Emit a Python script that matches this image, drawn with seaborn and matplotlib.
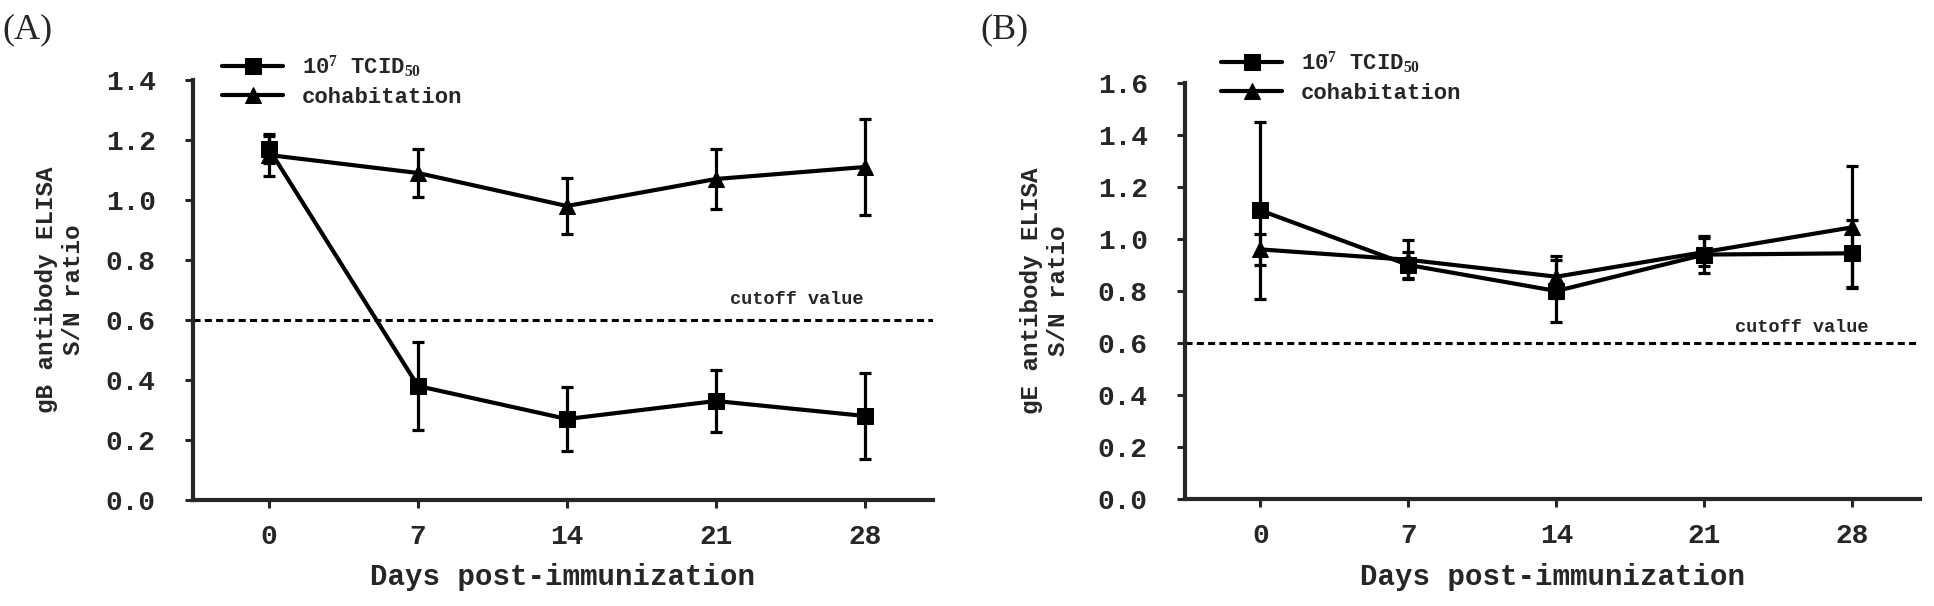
import numpy as np
import pandas as pd
import matplotlib
matplotlib.use("Agg")
import matplotlib.pyplot as plt
import seaborn as sns

days = [0, 7, 14, 21, 28]
series_names = ["10$^{7}$ TCID$_{50}$", "cohabitation"]

# Panel A: gB antibody ELISA
gb_tcid_mean = [1.17, 0.38, 0.27, 0.33, 0.28]
gb_tcid_err = [0.045, 0.148, 0.107, 0.104, 0.142]
gb_cohab_mean = [1.15, 1.09, 0.98, 1.07, 1.11]
gb_cohab_err = [0.07, 0.08, 0.094, 0.10, 0.16]

# Panel B: gE antibody ELISA
ge_tcid_mean = [1.11, 0.90, 0.80, 0.94, 0.945]
ge_tcid_err = [0.34, 0.05, 0.12, 0.07, 0.13]
ge_cohab_mean = [0.96, 0.92, 0.855, 0.95, 1.045]
ge_cohab_err = [0.06, 0.075, 0.08, 0.055, 0.235]

cutoff = 0.6
x_ticks = [0, 7, 14, 21, 28]

sns.set_theme(style="ticks")
plt.rcParams['font.family'] = ['Liberation Mono', 'DejaVu Sans']
plt.rcParams['mathtext.fontset'] = 'custom'
plt.rcParams['mathtext.rm'] = 'Liberation Serif:bold'
plt.rcParams['mathtext.it'] = 'Liberation Serif:bold'
plt.rcParams['mathtext.bf'] = 'Liberation Serif:bold'

W, H = 1934, 606
fig = plt.figure(figsize=(W / 100, H / 100), dpi=100)

def px_axes(l, r, top, bottom):
    return fig.add_axes([l / W, 1 - bottom / H, (r - l) / W, (bottom - top) / H])

axA = px_axes(193, 933, 80, 500)
axB = px_axes(1185, 1920, 83, 499)

def draw(ax, tm, te, cm, ce, ylim, yticks, cut_xy):
    dfs = pd.DataFrame({"day": days, "val": tm})
    dfc = pd.DataFrame({"day": days, "val": cm})
    sns.lineplot(data=dfs, x="day", y="val", ax=ax, color="black", lw=3.0,
                 marker="s", markersize=11.5, markeredgecolor="black",
                 label=series_names[0], zorder=4)
    sns.lineplot(data=dfc, x="day", y="val", ax=ax, color="black", lw=3.0,
                 marker="^", markersize=12, markeredgecolor="black",
                 label=series_names[1], zorder=4)
    ax.errorbar(days, tm, yerr=te, fmt="none", ecolor="black", elinewidth=2.3,
                capsize=4.2, capthick=2.3, zorder=3)
    ax.errorbar(days, cm, yerr=ce, fmt="none", ecolor="black", elinewidth=2.3,
                capsize=4.2, capthick=2.3, zorder=3)
    ax.axhline(cutoff, color="black", lw=2.2, ls=(0, (2.3, 1.4)), zorder=2)
    ax.text(cut_xy[0], cut_xy[1], "cutoff value", fontsize=13.4,
            fontweight="bold", ha="left", va="center",
            family=["Liberation Mono"])
    ax.set_xlim(-3.57, 31.2)
    ax.set_ylim(*ylim)
    ax.set_xticks(x_ticks)
    ax.set_yticks(yticks)
    ax.set_yticklabels([f"{v:.1f}" for v in yticks])
    for lab in ax.get_xticklabels() + ax.get_yticklabels():
        lab.set_fontweight("bold")
        lab.set_fontsize(20)
    ax.tick_params(axis="both", direction="out", length=6, width=2.2)
    ax.tick_params(axis="y", pad=21)
    ax.tick_params(axis="x", pad=11)
    for s in ["top", "right"]:
        ax.spines[s].set_visible(False)
    for s in ["left", "bottom"]:
        ax.spines[s].set_linewidth(3)
    ax.set_xlabel("")
    ax.set_ylabel("")
    leg = ax.get_legend()
    if leg is not None:
        leg.remove()

draw(axA, gb_tcid_mean, gb_tcid_err, gb_cohab_mean, gb_cohab_err,
     (0, 1.4), [0.0, 0.2, 0.4, 0.6, 0.8, 1.0, 1.2, 1.4], (21.65, 0.667))
draw(axB, ge_tcid_mean, ge_tcid_err, ge_cohab_mean, ge_cohab_err,
     (0, 1.6), [0.0, 0.2, 0.4, 0.6, 0.8, 1.0, 1.2, 1.4, 1.6], (22.46, 0.658))

# axis titles
for cx in [563, 1552]:
    fig.text(cx / W, 1 - 577 / H, "Days post-immunization", fontsize=21,
             fontweight="bold", ha="center", va="center")
fig.text(60 / W, 1 - 290 / H, "gB antibody ELISA\nS/N ratio", fontsize=17.5,
         fontweight="bold", ha="center", va="center", rotation=90,
         linespacing=1.25)
fig.text(1045 / W, 1 - 291 / H, "gE antibody ELISA\nS/N ratio", fontsize=17.5,
         fontweight="bold", ha="center", va="center", rotation=90,
         linespacing=1.25)

for ax, lx, ty in [(axA, 222, 54), (axB, 1221, 50)]:
    h, l = ax.get_legend_handles_labels()
    fig.legend(h[:2], l[:2], loc="upper left",
               bbox_to_anchor=(lx / W, 1 - ty / H), frameon=False,
               handlelength=2.75, handletextpad=0.85, labelspacing=0.3,
               borderpad=0, borderaxespad=0,
               prop={"family": ["Liberation Mono"], "weight": "bold",
                     "size": 16})

fig.text(2 / W, 1 - 30 / H, "(A)", fontsize=26, family=["Liberation Serif"],
         ha="left", va="center")
fig.text(980 / W, 1 - 30 / H, "(B)", fontsize=26, family=["Liberation Serif"],
         ha="left", va="center")

fig.savefig("out.png", dpi=100)
